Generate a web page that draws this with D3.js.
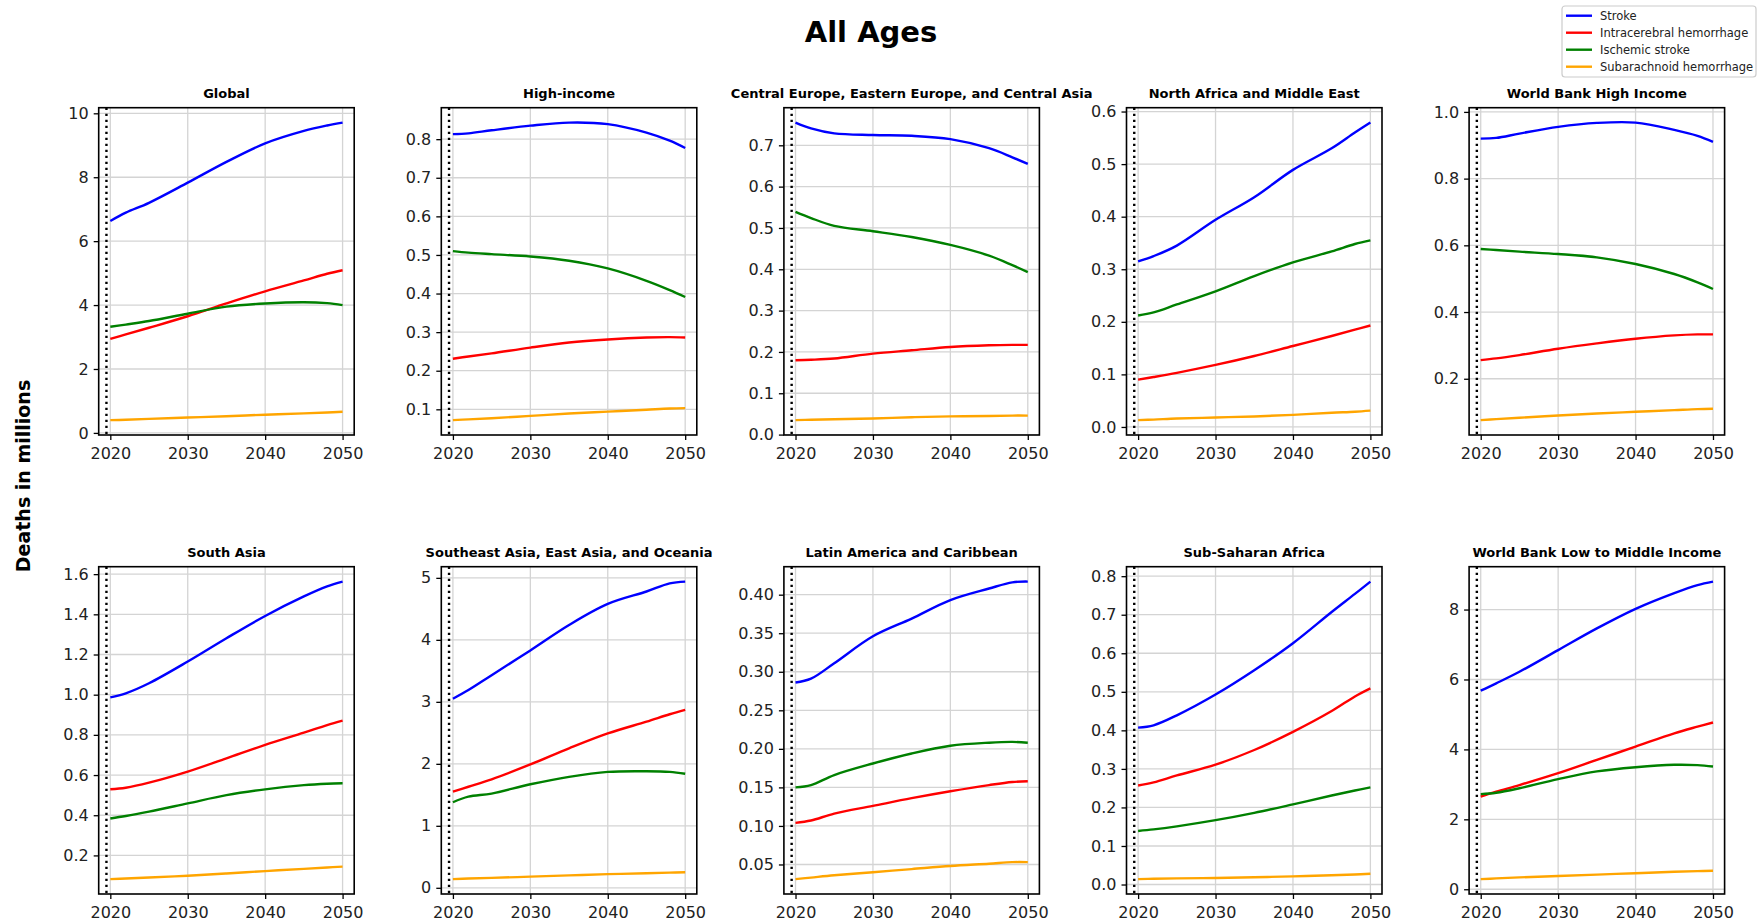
<!DOCTYPE html>
<html>
<head>
<meta charset="utf-8">
<script src="https://cdn.jsdelivr.net/npm/d3@7"></script>
<style>
  html, body { margin: 0; padding: 0; background: #fff; }
  svg { display: block; font-family: "DejaVu Sans", sans-serif; }
</style>
</head>
<body>
<div id="frame"></div>
<script>
'use strict'

// values, deaths in millions
var years = [2020, 2022, 2025, 2030, 2035, 2040, 2045, 2048, 2050]
var regions = ["Global", "High-income", "Central Europe, Eastern Europe, and Central Asia",
  "North Africa and Middle East", "World Bank High Income", "South Asia",
  "Southeast Asia, East Asia, and Oceania", "Latin America and Caribbean",
  "Sub-Saharan Africa", "World Bank Low to Middle Income"]
var causes = ["Stroke", "Intracerebral hemorrhage", "Ischemic stroke", "Subarachnoid hemorrhage"]

var stroke = [
  [6.63, 6.89, 7.20, 7.83, 8.48, 9.06, 9.45, 9.62, 9.71],
  [0.813, 0.815, 0.823, 0.835, 0.843, 0.839, 0.817, 0.796, 0.777],
  [0.755, 0.741, 0.729, 0.725, 0.723, 0.715, 0.693, 0.671, 0.655],
  [0.315, 0.325, 0.345, 0.394, 0.437, 0.489, 0.530, 0.560, 0.579],
  [0.920, 0.922, 0.935, 0.955, 0.967, 0.968, 0.946, 0.928, 0.910],
  [0.987, 1.007, 1.057, 1.165, 1.281, 1.392, 1.489, 1.539, 1.563],
  [3.05, 3.19, 3.43, 3.83, 4.24, 4.58, 4.78, 4.91, 4.94],
  [0.286, 0.291, 0.311, 0.346, 0.369, 0.393, 0.408, 0.416, 0.417],
  [0.407, 0.413, 0.439, 0.493, 0.556, 0.626, 0.707, 0.754, 0.786],
  [5.68, 5.89, 6.22, 6.84, 7.46, 8.02, 8.47, 8.70, 8.80]
]
var intracerebral = [
  [2.94, 3.08, 3.29, 3.65, 4.05, 4.43, 4.77, 4.98, 5.09],
  [0.231, 0.237, 0.245, 0.260, 0.273, 0.281, 0.286, 0.287, 0.286],
  [0.180, 0.181, 0.184, 0.196, 0.204, 0.212, 0.216, 0.217, 0.217],
  [0.090, 0.095, 0.103, 0.118, 0.135, 0.154, 0.173, 0.185, 0.193],
  [0.256, 0.261, 0.271, 0.290, 0.306, 0.320, 0.330, 0.333, 0.333],
  [0.529, 0.537, 0.562, 0.617, 0.683, 0.750, 0.811, 0.849, 0.871],
  [1.55, 1.63, 1.75, 1.99, 2.25, 2.49, 2.68, 2.80, 2.87],
  [0.104, 0.107, 0.116, 0.126, 0.136, 0.145, 0.153, 0.157, 0.158],
  [0.257, 0.265, 0.283, 0.311, 0.349, 0.396, 0.450, 0.488, 0.509],
  [2.65, 2.79, 2.98, 3.32, 3.70, 4.08, 4.46, 4.65, 4.77]
]
var ischemic = [
  [3.32, 3.39, 3.50, 3.73, 3.95, 4.05, 4.09, 4.06, 4.00],
  [0.510, 0.506, 0.502, 0.496, 0.485, 0.465, 0.433, 0.409, 0.391],
  [0.539, 0.524, 0.505, 0.492, 0.478, 0.459, 0.433, 0.410, 0.393],
  [0.212, 0.218, 0.233, 0.258, 0.287, 0.313, 0.334, 0.348, 0.355],
  [0.589, 0.586, 0.581, 0.574, 0.564, 0.544, 0.514, 0.489, 0.469],
  [0.384, 0.396, 0.418, 0.459, 0.500, 0.529, 0.550, 0.557, 0.559],
  [1.38, 1.47, 1.52, 1.67, 1.79, 1.87, 1.88, 1.87, 1.84],
  [0.150, 0.153, 0.166, 0.181, 0.194, 0.204, 0.208, 0.209, 0.208],
  [0.139, 0.143, 0.151, 0.167, 0.186, 0.208, 0.231, 0.244, 0.252],
  [2.72, 2.76, 2.89, 3.15, 3.37, 3.49, 3.56, 3.55, 3.51]
]
var subarachnoid = [
  [0.40, 0.41, 0.44, 0.48, 0.52, 0.57, 0.61, 0.64, 0.66],
  [0.072, 0.074, 0.077, 0.083, 0.089, 0.094, 0.099, 0.102, 0.103],
  [0.035, 0.036, 0.037, 0.039, 0.042, 0.044, 0.045, 0.046, 0.046],
  [0.013, 0.014, 0.016, 0.018, 0.020, 0.023, 0.027, 0.029, 0.031],
  [0.076, 0.079, 0.083, 0.090, 0.096, 0.101, 0.106, 0.109, 0.110],
  [0.082, 0.085, 0.090, 0.099, 0.110, 0.122, 0.133, 0.140, 0.144],
  [0.14, 0.15, 0.16, 0.18, 0.20, 0.22, 0.235, 0.245, 0.25],
  [0.031, 0.033, 0.036, 0.040, 0.044, 0.048, 0.051, 0.053, 0.053],
  [0.014, 0.015, 0.016, 0.017, 0.019, 0.021, 0.024, 0.026, 0.028],
  [0.29, 0.31, 0.34, 0.38, 0.42, 0.46, 0.50, 0.52, 0.53]
]
var yTickSteps = [2, 0.1, 0.1, 0.1, 0.2, 0.2, 1, 0.05, 0.1, 2]
var xTicks = [2020, 2030, 2040, 2050]
var projectionStart = 2019.5

var app = {}
app.settings = {
  width: 1758, height: 923,
  left: 98.7, colStep: 342.6, pw: 255.5,
  tops: [107.7, 566.7], ph: 327.3,
  colors: ["#0000ff", "#ff0000", "#008000", "#ffa500"]
}

var S = app.settings
var allSeries = [stroke, intracerebral, ischemic, subarachnoid]

app.svg = d3.select("#frame")
  .append("svg")
  .attr("width", S.width)
  .attr("height", S.height)

app.svg.append("text")
  .attr("x", 871)
  .attr("y", 42)
  .attr("text-anchor", "middle")
  .style("font-size", "29px")
  .style("font-weight", "bold")
  .text("All Ages")

app.svg.append("text")
  .attr("transform", "translate(30,476) rotate(-90)")
  .attr("text-anchor", "middle")
  .style("font-size", "19px")
  .style("font-weight", "bold")
  .text("Deaths in millions")

var x = d3.scaleLinear().domain([2018.5, 2051.5]).range([0, S.pw])

regions.forEach(function(name, i) {
  var col = i % 5
  var row = Math.floor(i / 5)
  var g = app.svg.append("g")
    .attr("class", "panel")
    .attr("transform", "translate(" + (S.left + col * S.colStep) + "," + S.tops[row] + ")")

  var vals = d3.merge(allSeries.map(s => s[i]))
  var ext = d3.extent(vals)
  var pad = (ext[1] - ext[0]) * 0.05
  var y = d3.scaleLinear().domain([ext[0] - pad, ext[1] + pad]).range([S.ph, 0])

  var step = yTickSteps[i]
  var dec = (String(step).split(".")[1] || "").length
  var yt = d3.range(Math.ceil(y.domain()[0] / step - 1e-9), Math.floor(y.domain()[1] / step + 1e-9) + 1)
    .map(k => +(k * step).toFixed(dec))

  // grid
  g.append("g")
    .selectAll("line.gx")
    .data(xTicks)
    .enter().append("line")
    .attr("x1", d => x(d)).attr("x2", d => x(d))
    .attr("y1", 0).attr("y2", S.ph)
    .style("stroke", "#d4d4d4").style("stroke-width", 1.3)
  g.append("g")
    .selectAll("line.gy")
    .data(yt)
    .enter().append("line")
    .attr("x1", 0).attr("x2", S.pw)
    .attr("y1", d => y(d)).attr("y2", d => y(d))
    .style("stroke", "#d4d4d4").style("stroke-width", 1.3)

  var line = d3.line()
    .x((d, j) => x(years[j]))
    .y(d => y(d))
    .curve(d3.curveCatmullRom.alpha(0.5))

  allSeries.forEach(function(s, k) {
    g.append("path")
      .datum(s[i])
      .attr("d", line)
      .style("fill", "none")
      .style("stroke", S.colors[k])
      .style("stroke-width", 2.4)
  })

  g.append("line")
    .attr("x1", x(projectionStart)).attr("x2", x(projectionStart))
    .attr("y1", 0).attr("y2", S.ph)
    .style("stroke", "#000")
    .style("stroke-width", 2.4)
    .style("stroke-dasharray", "2.4,3.6")

  g.append("rect")
    .attr("width", S.pw).attr("height", S.ph)
    .style("fill", "none")
    .style("stroke", "#000")
    .style("stroke-width", 1.6)

  var xa = g.append("g")
    .attr("transform", "translate(0," + S.ph + ")")
    .call(d3.axisBottom(x).tickValues(xTicks).tickFormat(d3.format("d")).tickSize(5).tickPadding(8))
  var ya = g.append("g")
    .call(d3.axisLeft(y).tickValues(yt).tickFormat(d3.format("." + dec + "f")).tickSize(5).tickPadding(5))

  ;[xa, ya].forEach(function(a) {
    a.select(".domain").remove()
    a.selectAll("line").style("stroke", "#000").style("stroke-width", 1.3)
    a.selectAll("text")
      .style("font-family", "DejaVu Sans")
      .style("font-size", "16px")
      .style("fill", "#222")
  })

  g.append("text")
    .attr("x", S.pw / 2)
    .attr("y", -9.5)
    .attr("text-anchor", "middle")
    .style("font-size", "13px")
    .style("font-weight", "bold")
    .text(name)
})

// legend
var lg = app.svg.append("g").attr("class", "legend")
lg.append("rect")
  .attr("x", 1562).attr("y", 6)
  .attr("width", 194).attr("height", 71)
  .attr("rx", 3)
  .style("fill", "#fff")
  .style("stroke", "#cccccc")
  .style("stroke-width", 1.2)

var items = lg.selectAll("g.item")
  .data(causes)
  .enter().append("g")
  .attr("class", "item")
  .attr("transform", (d, i) => "translate(0," + (15.7 + i * 17) + ")")

items.append("line")
  .attr("x1", 1566).attr("x2", 1592)
  .style("stroke", (d, i) => S.colors[i])
  .style("stroke-width", 2.4)
items.append("text")
  .attr("x", 1600)
  .attr("dy", "0.35em")
  .style("font-size", "11.5px")
  .style("fill", "#222")
  .text(d => d)
</script>
</body>
</html>
